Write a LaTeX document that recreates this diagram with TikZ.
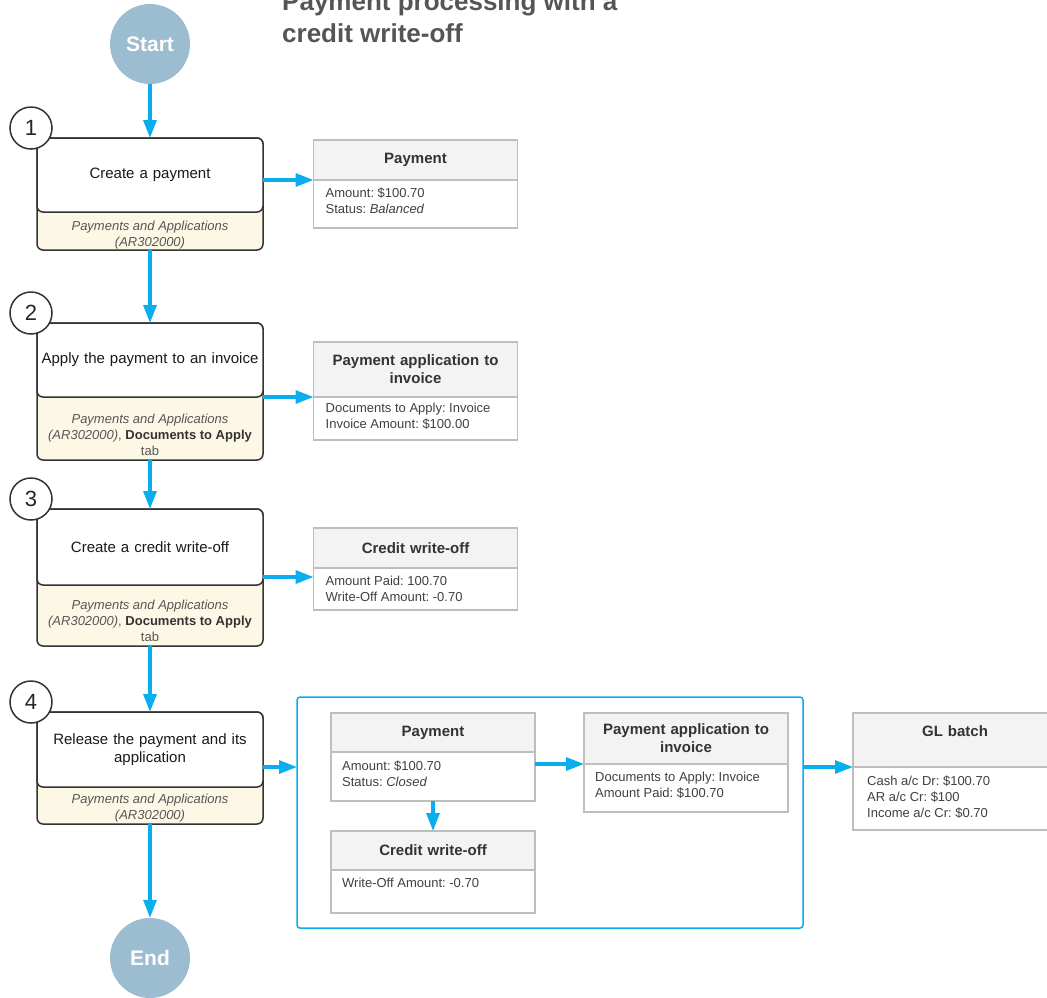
\documentclass[tikz,border=0pt]{standalone}
\usepackage{fontspec}
\setmainfont{Liberation Sans}
\usepackage{xcolor}
\usetikzlibrary{positioning,arrows.meta}
\frenchspacing
\definecolor{flowblue}{HTML}{0AADEE}
\definecolor{termfill}{HTML}{9CBCCF}
\definecolor{srcfill}{HTML}{FDF8E6}
\definecolor{hdrfill}{HTML}{F3F3F3}
\definecolor{boxline}{HTML}{BEBEBE}
\definecolor{stepline}{HTML}{333333}
\definecolor{srcgray}{HTML}{555555}
\tikzset{
  term/.style={ % Start / End circles
    circle, fill=termfill, minimum size=80pt, inner sep=0pt, text=white,
    font=\fontsize{21}{24}\selectfont\bfseries
  },
  stepsrc/.style={ % whole step box, shows the form in its lower part
    draw=stepline, line width=1.5pt, rounded corners=6pt, fill=srcfill,
    minimum width=226pt, outer sep=0pt, inner sep=0pt
  },
  steptop/.style={ % white upper part of a step box
    draw=stepline, line width=1.5pt, rounded corners=6pt, fill=white,
    minimum width=226pt, outer sep=0pt, inner sep=0pt, anchor=north,
    text width=222pt, align=center, text=black!90,
    font=\fontsize{15}{18}\selectfont
  },
  srctext/.style={
    inner sep=0pt, text=srcgray, align=center,
    font=\fontsize{13}{16}\selectfont
  },
  stepnum/.style={ % number of a step
    circle, draw=stepline, line width=1.5pt, fill=white,
    minimum size=42pt, inner sep=0pt, text=black!85,
    font=\fontsize{22}{24}\selectfont
  },
  ehead/.style={ % header of a record box
    draw=boxline, line width=1.5pt, fill=hdrfill, outer sep=0pt,
    inner xsep=4pt, text width=196pt, align=center, text=black!80,
    font=\fontsize{15}{18}\selectfont\bfseries
  },
  ebody/.style={ % body of a record box
    draw=boxline, line width=1.5pt, fill=white, outer sep=0pt,
    minimum width=204pt, inner sep=0pt
  },
  etext/.style={
    anchor=north west, inner sep=0pt, align=left, text=black!75,
    font=\fontsize{13}{16}\selectfont
  },
  flow/.style={
    -{Triangle[length=18pt,width=13pt]}, flowblue, line width=3.2pt
  }
}
\begin{document}
\begin{tikzpicture}[x=1pt,y=-1pt]
  \useasboundingbox (0,0) rectangle (1047,997);

  \node[anchor=south west, inner sep=0pt, align=left, text=srcgray,
    font=\fontsize{26}{32}\selectfont\bfseries] (title) at (282,43)
    {Payment processing with a\\credit write-off};

  % steps
  \node[term] (start) at (150,44) {Start};

  \node[stepsrc, minimum height=112pt] (s1) at (150,194) {};
  \node[steptop, minimum height=74pt] (s1top) at (s1.north) {Create a payment};
  \node[srctext, below=9pt of s1top] (s1src)
    {\textit{Payments and Applications}\\\textit{(AR302000)}};

  \node[stepsrc, minimum height=137pt] (s2) at (150,391.5) {};
  \node[steptop, minimum height=74pt] (s2top) at (s2.north) {Apply the payment to an invoice};
  \node[srctext, below=17pt of s2top] (s2src)
    {\textit{Payments and Applications}\\\textit{(AR302000)}, \textbf{\color{black!80}Documents to Apply}\\tab};

  \node[stepsrc, minimum height=137pt] (s3) at (150,577.5) {};
  \node[steptop, minimum height=76pt] (s3top) at (s3.north) {Create a credit write-off};
  \node[srctext, below=15pt of s3top] (s3src)
    {\textit{Payments and Applications}\\\textit{(AR302000)}, \textbf{\color{black!80}Documents to Apply}\\tab};

  \node[stepsrc, minimum height=112pt] (s4) at (150,768) {};
  \node[steptop, minimum height=75pt] (s4top) at (s4.north) {Release the payment and its\\application};
  \node[srctext, below=7pt of s4top] (s4src)
    {\textit{Payments and Applications}\\\textit{(AR302000)}};

  \node[term] (end) at (150,958) {End};

  \foreach \i in {1,...,4}
    \node[stepnum, xshift=-6pt, yshift=10pt] (n\i) at (s\i.north west) {\i};

  % records of steps 1-3
  \node[ehead, minimum height=40pt] (pay1) at (415.5,160) {Payment};
  \node[ebody, minimum height=48pt, below=0pt of pay1] (pay1b) {};
  \node[etext] (pay1t) at ([xshift=12pt,yshift=-7.5pt]pay1b.north west)
    {Amount: \$100.70\\Status: \textit{Balanced}};

  \node[ehead, minimum height=55pt] (app1) at (415.5,369.5) {Payment application to\\invoice};
  \node[ebody, minimum height=43pt, below=0pt of app1] (app1b) {};
  \node[etext] (app1t) at ([xshift=12pt,yshift=-5.5pt]app1b.north west)
    {Documents to Apply: Invoice\\Invoice Amount: \$100.00};

  \node[ehead, minimum height=40pt] (cwo1) at (415.5,548) {Credit write-off};
  \node[ebody, minimum height=42pt, below=0pt of cwo1] (cwo1b) {};
  \node[etext] (cwo1t) at ([xshift=12pt,yshift=-7.5pt]cwo1b.north west)
    {Amount Paid: 100.70\\Write-Off Amount: -0.70};

  % records of the release
  \node[draw=flowblue, line width=1.5pt, rounded corners=3pt, minimum width=506pt,
    minimum height=231pt, outer sep=0pt] (rel) at (550,812.5) {};

  \node[ehead, minimum height=39pt] (pay2) at (433,732.5) {Payment};
  \node[ebody, minimum height=49pt, below=0pt of pay2] (pay2b) {};
  \node[etext] (pay2t) at ([xshift=11pt,yshift=-8.5pt]pay2b.north west)
    {Amount: \$100.70\\Status: \textit{Closed}};

  \node[ehead, minimum height=39pt] (cwo2) at (433,850.5) {Credit write-off};
  \node[ebody, minimum height=43pt, below=0pt of cwo2] (cwo2b) {};
  \node[etext] (cwo2t) at ([xshift=11pt,yshift=-8pt]cwo2b.north west)
    {Write-Off Amount: -0.70};

  \node[ehead, minimum height=51pt] (app2) at (686,738.5) {Payment application to\\invoice};
  \node[ebody, minimum height=48pt, below=0pt of app2] (app2b) {};
  \node[etext] (app2t) at ([xshift=11pt,yshift=-8pt]app2b.north west)
    {Documents to Apply: Invoice\\Amount Paid: \$100.70};

  \node[ehead, minimum height=54pt] (gl) at (955,740) {GL batch\\\mbox{}};
  \node[ebody, minimum height=63pt, below=0pt of gl] (glb) {};
  \node[etext] (glt) at ([xshift=14pt,yshift=-9pt]glb.north west)
    {Cash a/c Dr: \$100.70\\AR a/c Cr: \$100\\Income a/c Cr: \$0.70};

  % connectors
  \draw[flow] (start) -- (s1.north);
  \draw[flow] (s1.south) -- (s2top.north);
  \draw[flow] (s2.south) -- (s3top.north);
  \draw[flow] (s3.south) -- (s4top.north);
  \draw[flow] (s4.south) -- (end);

  \draw[flow] (s1top.east |- pay1b.north) -- (pay1b.north west);
  \draw[flow] (s2top.east |- app1b.north) -- (app1b.north west);
  \coordinate (a3) at ([yshift=-9pt]cwo1b.north west);
  \draw[flow] (s3top.east |- a3) -- (a3);
  \draw[flow] (s4top.east |- glb.north) -- (rel.west |- glb.north);

  \draw[flow] (pay2b.east |- app2b.north) -- (app2b.north west);
  \draw[flow] (pay2b.south) -- (cwo2.north);
  \draw[flow] (rel.east |- glb.north) -- (glb.north west);
\end{tikzpicture}
\end{document}
